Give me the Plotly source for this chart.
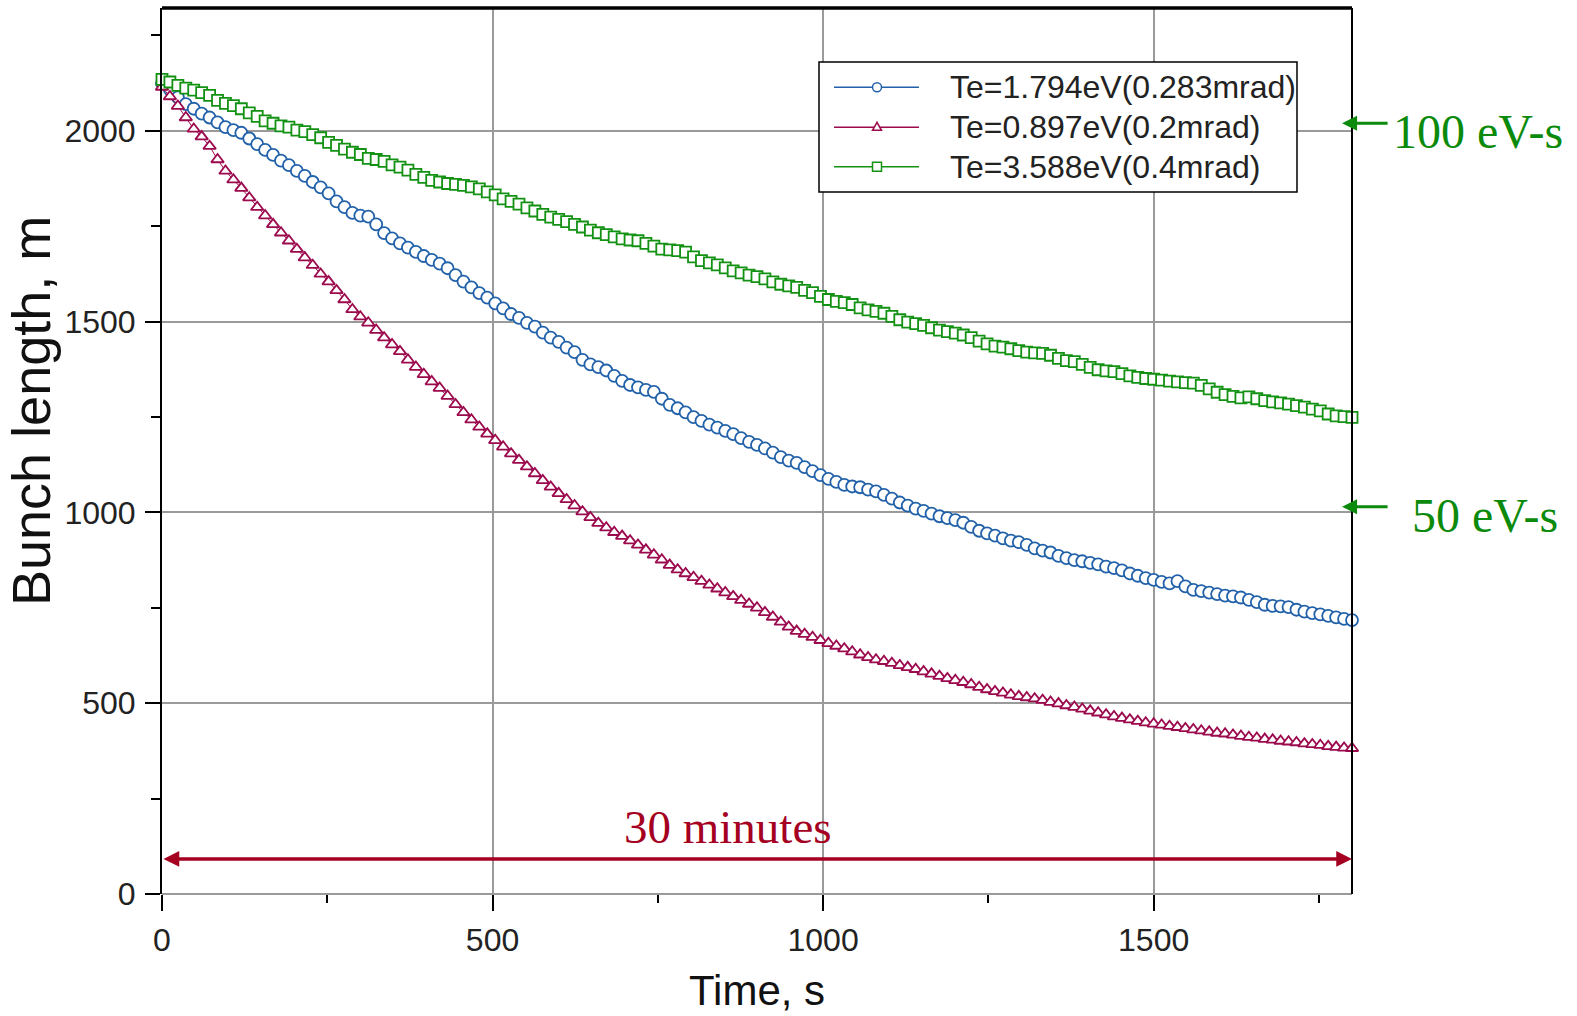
import plotly.graph_objects as go

# Sample times (s), one sample every 12 s over 30 minutes
time_s = list(range(0, 1801, 12))

# Bunch length (m) for each electron-beam temperature
bunch_te_1794 = [
    2125, 2108, 2088, 2070, 2058, 2045, 2035, 2022, 2010, 2002,
    1995, 1980, 1965, 1950, 1937, 1922, 1910, 1895, 1882, 1866,
    1852, 1836, 1815, 1800, 1785, 1778, 1775, 1755, 1732, 1718,
    1705, 1694, 1683, 1672, 1662, 1652, 1640, 1622, 1605, 1590,
    1575, 1563, 1548, 1535, 1520, 1510, 1497, 1487, 1471, 1458,
    1447, 1432, 1420, 1400, 1388, 1381, 1372, 1358, 1345, 1334,
    1328, 1321, 1316, 1298, 1282, 1273, 1262, 1250, 1240, 1230,
    1222, 1214, 1205, 1195, 1185, 1177, 1168, 1157, 1145, 1136,
    1130, 1119, 1108, 1098, 1088, 1080, 1072, 1068, 1066, 1060,
    1055, 1046, 1036, 1026, 1018, 1010, 1004, 997, 990, 985,
    980, 973, 962, 952, 945, 939, 932, 926, 922, 915,
    906, 900, 895, 886, 880, 875, 872, 868, 864, 858,
    854, 848, 840, 834, 828, 823, 818, 814, 820, 806,
    797, 794, 790, 786, 782, 780, 777, 771, 765, 758,
    755, 754, 752, 745, 740, 736, 733, 729, 725, 721,
    718,
]
bunch_te_0897 = [
    2115, 2090, 2065, 2035, 2005, 1985, 1960, 1925, 1895, 1872,
    1850, 1825, 1800, 1778, 1755, 1733, 1712, 1690, 1668, 1648,
    1625, 1605, 1582, 1558, 1532, 1513, 1497, 1478, 1458, 1440,
    1422, 1400, 1381, 1362, 1343, 1326, 1305, 1283, 1262, 1243,
    1224, 1206, 1189, 1172, 1154, 1137, 1120, 1102, 1084, 1067,
    1050, 1034, 1018, 1002, 987, 972, 960, 948, 938, 926,
    915, 902, 889, 876, 862, 850, 840, 830, 820, 810,
    800, 790, 780, 770, 760, 750, 738, 726, 713, 700,
    689, 681, 673, 665, 657, 650, 643, 635, 627, 620,
    614, 610, 605, 599, 594, 589, 583, 577, 571, 565,
    560, 555, 549, 542, 536, 531, 527, 522, 518, 515,
    512, 508, 503, 499, 494, 490, 485, 480, 475, 470,
    465, 461, 457, 453, 449, 446, 443, 440, 437, 434,
    431, 428, 425, 422, 420, 417, 414, 411, 409, 406,
    404, 401, 399, 397, 394, 392, 390, 387, 385, 383,
    382,
]
bunch_te_3588 = [
    2135, 2128, 2119, 2112, 2107, 2100, 2093, 2080, 2072, 2066,
    2058, 2047, 2038, 2026, 2020, 2013, 2010, 2002, 1998, 1990,
    1982, 1970, 1962, 1952, 1944, 1938, 1928, 1925, 1920, 1911,
    1905, 1897, 1886, 1878, 1870, 1866, 1862, 1860, 1857, 1853,
    1848, 1840, 1832, 1822, 1815, 1808, 1798, 1790, 1781, 1774,
    1768, 1762, 1755, 1748, 1740, 1733, 1728, 1722, 1717, 1714,
    1712, 1705, 1698, 1690, 1688, 1686, 1682, 1670, 1660, 1654,
    1649, 1641, 1633, 1628, 1622, 1618, 1612, 1604, 1598, 1594,
    1590, 1582, 1576, 1566, 1558, 1553, 1550, 1545, 1536, 1531,
    1527, 1522, 1514, 1505, 1499, 1495, 1490, 1484, 1478, 1474,
    1470, 1465, 1458, 1449, 1442, 1436, 1433, 1429, 1424, 1420,
    1418, 1417, 1412, 1404, 1398, 1395, 1388, 1380, 1374, 1371,
    1369, 1364, 1358, 1354, 1351, 1349, 1347, 1344, 1342, 1340,
    1339, 1333, 1324, 1315, 1309, 1304, 1300, 1303, 1298, 1293,
    1290, 1287, 1284, 1280, 1276, 1271, 1266, 1258, 1253, 1251,
    1249,
]

series_names = ["Te=1.794eV(0.283mrad)", "Te=0.897eV(0.2mrad)", "Te=3.588eV(0.4mrad)"]
x_tick_vals = [0, 500, 1000, 1500]
y_tick_vals = [0, 500, 1000, 1500, 2000]

BLUE = "#2161a9"
RED = "#9c0a4e"
GREEN = "#139113"
NOTE_GREEN = "#0b8a0b"
NOTE_RED = "#a50021"

SANS = "Liberation Sans, Arial, sans-serif"
SERIF = "Liberation Serif, Times New Roman, serif"

# Page and plot-area geometry in pixels
W, H = 1577, 1016
ML, MR, MT, MB = 162, 225, 8, 122
PW, PH = W - ML - MR, H - MT - MB


def fx(px):
    return (px - ML) / PW


def fy(py):
    return (H - MB - py) / PH


styles = [
    (bunch_te_1794, BLUE, "circle", 12),
    (bunch_te_0897, RED, "triangle-up", 11),
    (bunch_te_3588, GREEN, "square", 11),
]

fig = go.Figure()
for (vals, color, symbol, size), name in zip(styles, series_names):
    fig.add_trace(go.Scatter(
        x=time_s, y=vals, name=name, mode="lines+markers",
        line=dict(color=color, width=1),
        marker=dict(symbol=symbol, size=size, color="white",
                    line=dict(color=color, width=1.8)),
        showlegend=False, cliponaxis=False,
    ))

shapes = [
    # frame: heavy top edge and right edge
    dict(type="line", xref="paper", yref="paper", x0=0, x1=1, y0=1, y1=1,
         line=dict(color="black", width=3.5)),
    dict(type="line", xref="paper", yref="paper", x0=1, x1=1, y0=0, y1=1,
         line=dict(color="black", width=2)),
]

# legend box
shapes.append(dict(type="rect", xref="paper", yref="paper",
                   x0=fx(819), x1=fx(1297), y0=fy(192), y1=fy(62),
                   fillcolor="white", line=dict(color="black", width=1.5)))

annotations = []
legend_rows = [87.3, 127.3, 166.7]
mx = 877
for (vals, color, symbol, size), name, ry in zip(styles, series_names, legend_rows):
    shapes.append(dict(type="line", xref="paper", yref="paper",
                       x0=fx(834), x1=fx(919), y0=fy(ry), y1=fy(ry),
                       line=dict(color=color, width=1.5)))
    if symbol == "circle":
        shapes.append(dict(type="circle", xref="paper", yref="paper",
                           x0=fx(mx - 4.5), x1=fx(mx + 4.5),
                           y0=fy(ry + 4.5), y1=fy(ry - 4.5),
                           fillcolor="white", line=dict(color=color, width=1.5)))
    elif symbol == "square":
        shapes.append(dict(type="rect", xref="paper", yref="paper",
                           x0=fx(mx - 4.5), x1=fx(mx + 4.5),
                           y0=fy(ry + 4.5), y1=fy(ry - 4.5),
                           fillcolor="white", line=dict(color=color, width=1.5)))
    else:
        path = "M {} {} L {} {} L {} {} Z".format(
            fx(mx), fy(ry - 5), fx(mx - 4.5), fy(ry + 3), fx(mx + 4.5), fy(ry + 3))
        shapes.append(dict(type="path", xref="paper", yref="paper", path=path,
                           fillcolor="white", line=dict(color=color, width=1.5)))
    annotations.append(dict(xref="paper", yref="paper", x=fx(948), y=fy(ry),
                            xanchor="left", yanchor="middle", showarrow=False,
                            text=name, font=dict(family=SANS, size=32, color="#222")))

# 30-minute span arrow
annotations.append(dict(x=1800, y=92, ax=0, ay=92, xref="x", yref="y",
                        axref="x", ayref="y", text="", showarrow=True,
                        arrowside="end+start", arrowhead=2, startarrowhead=2,
                        arrowsize=0.9, startarrowsize=0.9, arrowwidth=3.5,
                        arrowcolor=NOTE_RED, standoff=0, startstandoff=0))
annotations.append(dict(xref="paper", yref="paper", x=fx(728), y=fy(827),
                        xanchor="center", yanchor="middle", showarrow=False,
                        text="30 minutes",
                        font=dict(family=SERIF, size=47, color=NOTE_RED)))

# longitudinal emittance markers on the right
for yv, label, ty, tx in [(2020, "100 eV-s", 131, 1391), (1015, "50 eV-s", 515, 1410)]:
    annotations.append(dict(x=1785, y=yv, xref="x", yref="y", ax=47, ay=0,
                            text="", showarrow=True, arrowhead=2, arrowsize=1,
                            arrowwidth=3, arrowcolor=NOTE_GREEN, standoff=0))
    annotations.append(dict(xref="paper", yref="paper", x=fx(tx), y=fy(ty),
                            xanchor="left", yanchor="middle", showarrow=False,
                            text=label,
                            font=dict(family=SERIF, size=48, color=NOTE_GREEN)))

# axis titles
annotations.append(dict(xref="paper", yref="paper", x=fx(757), y=fy(1016),
                        xanchor="center", yanchor="bottom", showarrow=False,
                        text="Time, s", font=dict(family=SANS, size=42, color="#111")))
annotations.append(dict(xref="paper", yref="paper", x=fx(31), y=fy(411),
                        xanchor="center", yanchor="middle", showarrow=False,
                        textangle=-90, text="Bunch length, m",
                        font=dict(family=SANS, size=54, color="#111")))

fig.update_layout(
    width=W, height=H,
    margin=dict(l=ML, r=MR, t=MT, b=MB, pad=0),
    paper_bgcolor="white", plot_bgcolor="white",
    shapes=shapes, annotations=annotations,
    showlegend=False,
    font=dict(family=SANS, color="#222"),
)

fig.update_xaxes(
    range=[0, 1800], tickvals=x_tick_vals,
    showgrid=True, gridcolor="#9a9a9a", gridwidth=1.5,
    zeroline=False, showline=False,
    ticks="outside", ticklen=16, tickwidth=1.5, tickcolor="black",
    ticklabelstandoff=2,
    tickfont=dict(family=SANS, size=32, color="#222"),
    minor=dict(dtick=250, tick0=0, ticks="outside", ticklen=8,
               tickwidth=1.5, tickcolor="black", showgrid=False),
)
fig.update_yaxes(
    range=[0, 2322], tickvals=y_tick_vals,
    showgrid=True, gridcolor="#9a9a9a", gridwidth=1.5,
    zeroline=True, zerolinecolor="#9a9a9a", zerolinewidth=1.5,
    showline=True, linecolor="black", linewidth=2,
    ticks="outside", ticklen=15, tickwidth=1.5, tickcolor="black",
    ticklabelstandoff=3,
    tickfont=dict(family=SANS, size=32, color="#222"),
    minor=dict(dtick=250, tick0=0, ticks="outside", ticklen=9,
               tickwidth=1.5, tickcolor="black", showgrid=False),
)

fig.write_html("out.html")
